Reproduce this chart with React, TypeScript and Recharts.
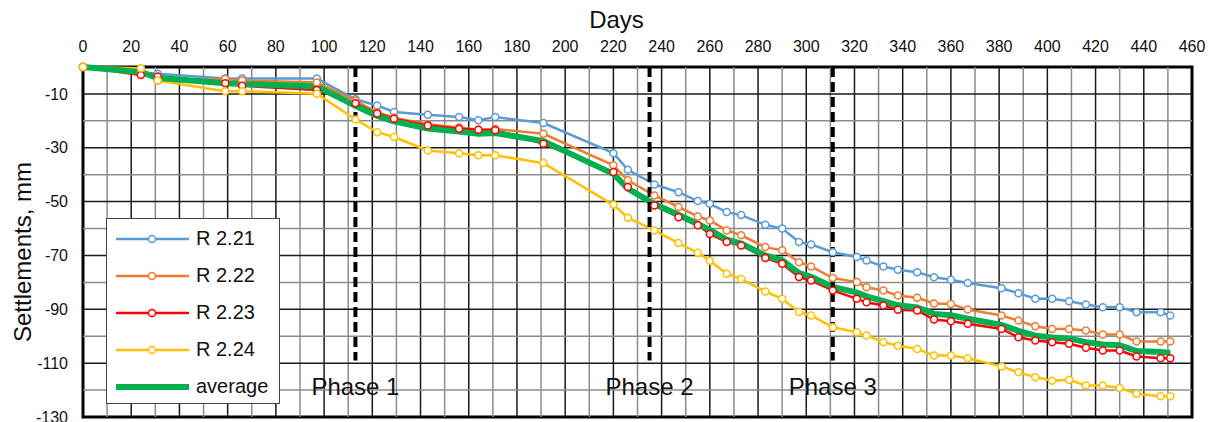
import React from "react";
import { LineChart, Line, XAxis, YAxis, ReferenceLine, ReferenceArea, Legend } from "recharts";

const FONT = "'Liberation Sans', Arial, sans-serif";

// days of each survey
const days = [0, 24, 31, 59, 66, 97, 113, 122, 129, 143, 156, 164, 171, 191, 220, 226, 237, 247, 255, 260, 267, 273, 283, 290, 297, 302, 311, 321, 325, 332, 338, 346, 353, 360, 367, 381, 388, 395, 402, 409, 416, 423, 430, 437, 447, 451];

// settlements, mm
const r221 = [0, -2, -2.5, -4.3, -4.3, -4.3, -12, -14.3, -16.7, -17.7, -18.6, -19.8, -18.6, -20.8, -32, -38.2, -43.6, -46.5, -49.8, -50.8, -53.9, -55, -58.6, -60, -65, -65.9, -68.8, -70.6, -71.9, -74.1, -75.3, -76.2, -78.1, -79, -80.2, -82.2, -84, -86.1, -86.1, -87, -88.2, -89.2, -89.2, -91.1, -91.1, -92.3];
const r222 = [0, -2, -5, -4.5, -5, -5.8, -12.5, -16.8, -18.8, -21.3, -22.5, -23.3, -23, -24.8, -36.5, -42.1, -47.7, -52, -55.5, -57, -60.7, -62.5, -66.9, -68.1, -72.5, -74.1, -78.4, -79.9, -81.8, -83, -84.9, -85.7, -87.8, -88, -90.1, -92.3, -94.2, -96.3, -97.3, -97.3, -97.9, -99.4, -99.4, -102, -102, -102];
const r223 = [0, -3, -3.5, -6, -7, -8.5, -13.5, -17.3, -19.2, -21.7, -22.9, -23.3, -23.5, -28.5, -39, -44.6, -51.4, -55.8, -58.8, -62, -65, -66.3, -70.9, -73.1, -78, -79.3, -83, -86.1, -87.4, -88.6, -90.2, -90.4, -93.8, -94.4, -95.4, -97.3, -100.4, -101.6, -102.2, -102.8, -104.3, -105.3, -105.3, -107.5, -108.2, -108.2];
const r224 = [0, -0.5, -5, -9, -9, -9.9, -19.5, -24.2, -26, -31, -32, -32.8, -32.8, -35.7, -51.2, -56, -60.7, -65.4, -69, -72, -76.8, -78.7, -83.4, -86.1, -91, -92.3, -96.7, -98.5, -99.7, -102.2, -103.5, -104.7, -107.2, -107.2, -108.2, -111.2, -113.4, -115.2, -116.5, -116.2, -118.3, -118.3, -119.2, -121.4, -122.3, -122.3];
const average = [0, -1.9, -4, -6, -6.3, -7.2, -14.4, -18.2, -20.2, -22.9, -24, -24.8, -24.5, -27.5, -39.7, -45.2, -50.9, -54.9, -58.3, -60.5, -64.1, -65.6, -70, -71.8, -76.6, -77.9, -81.7, -83.8, -85.2, -87, -88.5, -89.3, -91.7, -92.2, -93.5, -95.8, -98, -99.8, -100.5, -100.8, -102.2, -103.1, -103.3, -105.5, -105.9, -106.2];

const xTicks = [0, 20, 40, 60, 80, 100, 120, 140, 160, 180, 200, 220, 240, 260, 280, 300, 320, 340, 360, 380, 400, 420, 440, 460];
const yTicks = [-10, -30, -50, -70, -90, -110, -130];
const gridDays = [10, 20, 30, 40, 50, 60, 70, 80, 90, 100, 110, 120, 130, 140, 150, 160, 170, 180, 190, 200, 210, 220, 230, 240, 250, 260, 270, 280, 290, 300, 310, 320, 330, 340, 350, 360, 370, 380, 390, 400, 410, 420, 430, 440, 450];
const gridMm = [-10, -20, -30, -40, -50, -60, -70, -80, -90, -100, -110, -120];

const phases = [
  { day: 113, name: "Phase 1" },
  { day: 235, name: "Phase 2" },
  { day: 311, name: "Phase 3" },
];

const series = [
  { key: "r221", name: "R 2.21", color: "#5B9BD5", values: r221, width: 2.5, dots: true },
  { key: "r222", name: "R 2.22", color: "#ED7D31", values: r222, width: 2.5, dots: true },
  { key: "r223", name: "R 2.23", color: "#FF0000", values: r223, width: 2.5, dots: true },
  { key: "r224", name: "R 2.24", color: "#FFC000", values: r224, width: 2.5, dots: true },
  { key: "avg", name: "average", color: "#00B050", values: average, width: 6, dots: false },
];

const data = days.map((d, i) => {
  const row: Record<string, number> = { day: d };
  series.forEach((s) => (row[s.key] = s.values[i]));
  return row;
});

const DaysLabel = (props: any) => {
  const vb = props.viewBox;
  return (
    <text x={vb.x + vb.width / 2 - 21} y={28} textAnchor="middle" fontSize={24} fontFamily={FONT} fill="#111">
      Days
    </text>
  );
};

const MmLabel = (props: any) => {
  const vb = props.viewBox;
  const cy = vb.y + vb.height / 2 + 10;
  return (
    <text transform={`translate(31, ${cy}) rotate(-90)`} textAnchor="middle" fontSize={24} fontFamily={FONT} fill="#111">
      Settlements, mm
    </text>
  );
};

const phaseLabel = (name: string) => (props: any) => {
  const vb = props.viewBox;
  return (
    <text x={vb.x} y={395} textAnchor="middle" fontSize={24} fontFamily={FONT} fill="#111">
      {name}
    </text>
  );
};

const LegendBox = () => (
  <div
    style={{
      boxSizing: "border-box",
      width: 174,
      height: 186,
      border: "1px solid #444",
      background: "#fff",
      paddingTop: 1,
      fontFamily: FONT,
      fontSize: 20,
      color: "#111",
    }}
  >
    {series.map((s) => (
      <div key={s.key} style={{ display: "flex", alignItems: "center", height: 37 }}>
        <svg width={73} height={12} style={{ marginLeft: 9, flex: "none" }}>
          <line x1={0} y1={6} x2={73} y2={6} stroke={s.color} strokeWidth={s.width} />
          {s.dots && <circle cx={36} cy={6} r={3.5} fill="#fff" stroke={s.color} strokeWidth={1.5} />}
        </svg>
        <span style={{ marginLeft: 7, whiteSpace: "nowrap" }}>{s.name}</span>
      </div>
    ))}
  </div>
);

export default function App() {
  return (
    <div style={{ position: "absolute", left: 0, top: 0, background: "#fff" }}>
      <LineChart width={1208} height={422} data={data} margin={{ top: 0, right: 16, bottom: 5, left: 0 }}>
        <XAxis
          dataKey="day"
          type="number"
          orientation="top"
          domain={[0, 460]}
          ticks={xTicks}
          interval={0}
          height={67}
          axisLine={false}
          tickLine={false}
          tickSize={0}
          tickMargin={15}
          tick={{ fontSize: 16, fill: "#111", fontFamily: FONT }}
          label={DaysLabel}
        />
        <YAxis
          type="number"
          domain={[-130, 0]}
          ticks={yTicks}
          interval={0}
          width={83}
          axisLine={false}
          tickLine={false}
          tickSize={0}
          tickMargin={15}
          tick={{ fontSize: 16, fill: "#111", fontFamily: FONT }}
          label={MmLabel}
        />
        {gridDays.map((d) => (
          <ReferenceLine key={`gx${d}`} x={d} stroke={d % 20 === 0 ? "#1a1a1a" : "#8c8c8c"} strokeWidth={1.5} />
        ))}
        {gridMm.map((v) => (
          <ReferenceLine key={`gy${v}`} y={v} stroke={v % 20 === 0 ? "#8c8c8c" : "#1a1a1a"} strokeWidth={1.5} />
        ))}
        <ReferenceArea x1={0} x2={460} y1={-130} y2={0} fill="none" fillOpacity={0} stroke="#000" strokeWidth={3} />
        {series.map((s) => (
          <Line
            key={s.key}
            dataKey={s.key}
            name={s.name}
            type="linear"
            stroke={s.color}
            strokeWidth={s.width}
            dot={s.dots ? { r: 3.5, fill: "#fff", stroke: s.color, strokeWidth: 1.5 } : false}
            activeDot={false}
            isAnimationActive={false}
          />
        ))}
        {phases.map((p) => (
          <ReferenceLine
            key={p.name}
            segment={[{ x: p.day, y: 0 }, { x: p.day, y: -109 }]}
            stroke="#000"
            strokeWidth={4}
            strokeDasharray="10 5"
            label={phaseLabel(p.name)}
          />
        ))}
        <Legend
          verticalAlign="middle"
          align="center"
          layout="horizontal"
          wrapperStyle={{ left: 106, top: 218, width: 174, height: 186 }}
          content={LegendBox}
        />
      </LineChart>
    </div>
  );
}
